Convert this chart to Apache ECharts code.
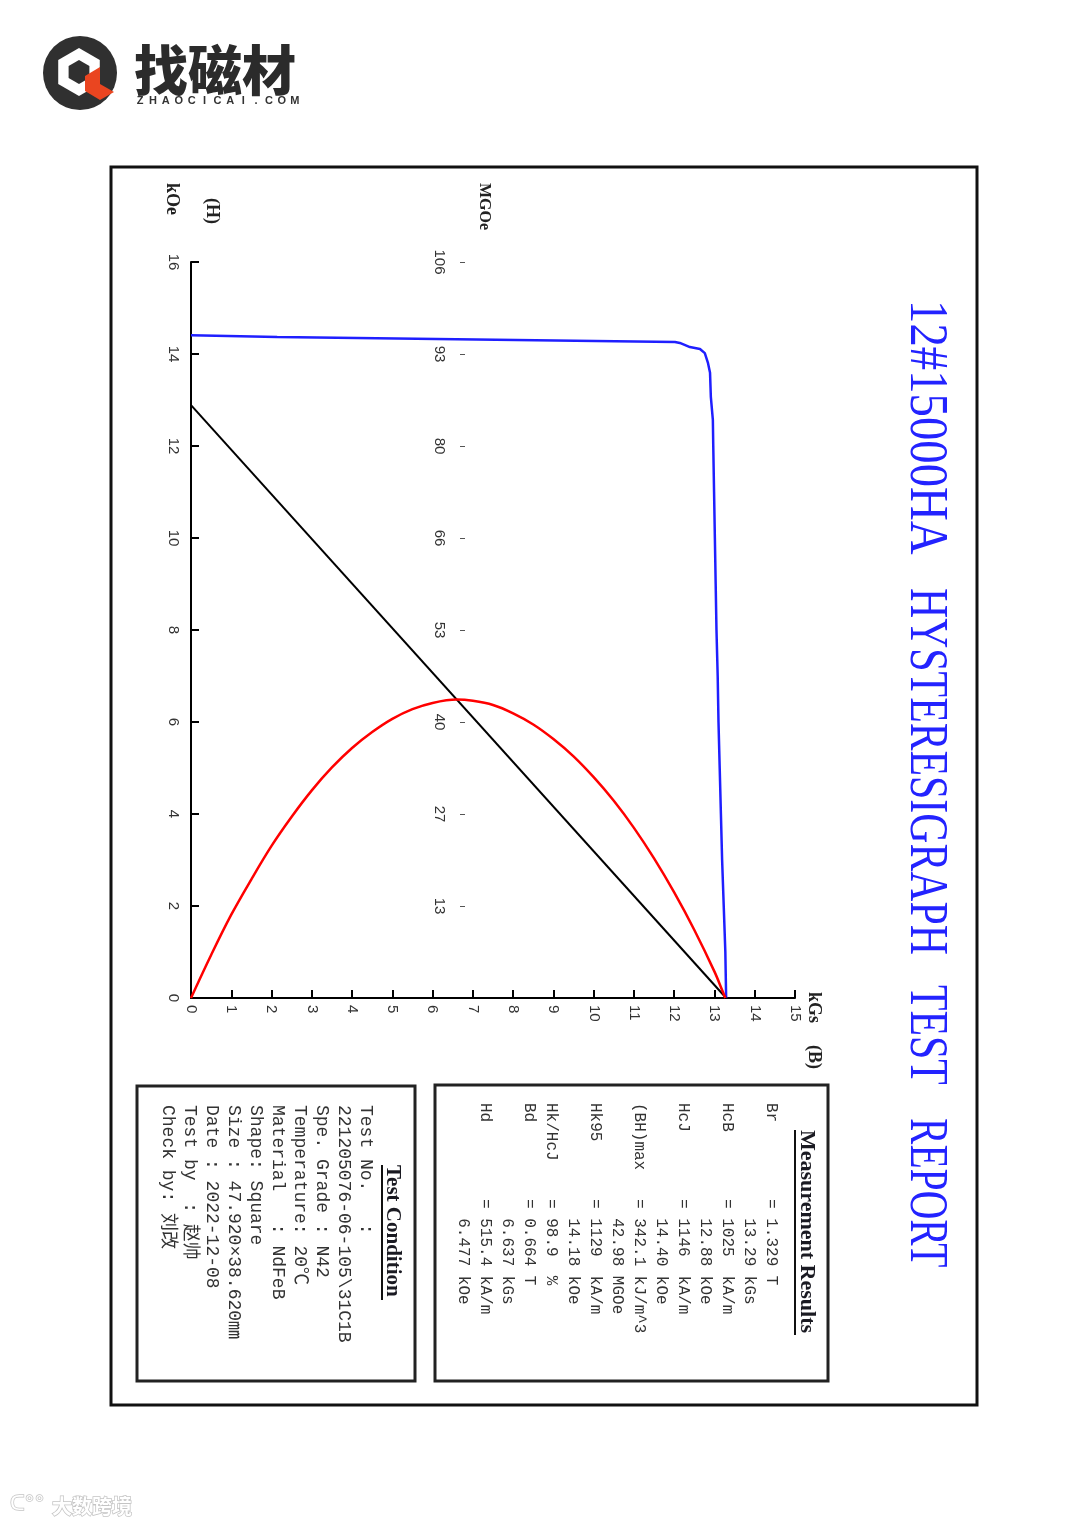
<!DOCTYPE html>
<html>
<head>
<meta charset="utf-8">
<script src="https://cdn.jsdelivr.net/npm/echarts@6/dist/echarts.min.js"></script>
<style>
html,body{margin:0;padding:0;background:#fff;}
#chart{width:1080px;height:1526px;}
</style>
</head>
<body>
<div id="chart"></div>
<script>
// ---------------- data ----------------
const titleParts = ['12#15000HA', 'HYSTERESIGRAPH', 'TEST', 'REPORT'];
const bTickLabels = ['0','1','2','3','4','5','6','7','8','9','10','11','12','13','14','15'];
const hTickLabels = ['0','2','4','6','8','10','12','14','16'];
const mgoeTickLabels = ['0','13','27','40','53','66','80','93','106'];

// Intrinsic (J-H) demagnetisation curve, blue: J in kGs, H in kOe
const jCurveB = [13.29, 13.27, 13.23, 13.19, 13.16, 13.13, 13.10, 13.08, 13.05, 13.03, 13.01, 12.99, 12.97, 12.96, 12.91, 12.89, 12.84, 12.76, 12.64, 12.39, 12.14, 12.02, 2.14, 0];
const jCurveH = [0, 1.0, 2.0, 3.0, 4.0, 5.0, 6.0, 7.0, 8.0, 9.0, 10.0, 11.0, 12.0, 12.57, 13.07, 13.59, 13.80, 14.02, 14.11, 14.15, 14.24, 14.26, 14.37, 14.41];

// Normal (B-H) curve, black
const normalB = [0, 13.29];
const normalH = [12.89, 0];

// Energy product curve, red: B in kGs, BH in MGOe
const bhB = [0, 0.5, 1, 1.5, 2, 2.5, 3, 3.5, 4, 4.5, 5, 5.5, 6, 6.6, 7, 7.5, 8, 8.5, 9, 9.5, 10, 10.5, 11, 11.5, 12, 12.5, 13, 13.2, 13.27];
const bhMGOe = [0, 6.2, 12.0, 17.1, 21.9, 26.1, 29.9, 33.2, 36.0, 38.3, 40.2, 41.6, 42.5, 42.98, 42.8, 42.2, 41.0, 39.4, 37.3, 34.8, 31.8, 28.4, 24.5, 20.1, 15.2, 9.8, 3.8, 1.0, 0];

const measurementLines = [
  'Br        = 1.329 T',
  '            13.29 kGs',
  'HcB       = 1025  kA/m',
  '            12.88 kOe',
  'HcJ       = 1146  kA/m',
  '            14.40 kOe',
  '(BH)max   = 342.1 kJ/m^3',
  '            42.98 MGOe',
  'Hk95      = 1129  kA/m',
  '            14.18 kOe',
  'Hk/HcJ    = 98.9  %',
  'Bd        = 0.664 T',
  '            6.637 kGs',
  'Hd        = 515.4 kA/m',
  '            6.477 kOe'
];
const conditionLines = [
  'Test No.   :',
  '221205076-06-105\\31C1B',
  'Spe. Grade : N42',
  'Temperature: 20℃',
  'Material   : NdFeB',
  'Shape: Square',
  'Size : 47.920×38.620㎜',
  'Date : 2022-12-08',
  'Test by  : 赵帅',
  'Check by: 刘改'
];

// ---------------- build ----------------
const zip = (a, b) => a.map((v, i) => [v, b[i]]);
const ROT = -Math.PI / 2;
const SERIF = "'Liberation Serif','Times New Roman',serif";
const MONO = "'Liberation Mono','DejaVu Sans Mono','Noto Sans CJK SC',monospace";

function rtext(x, y, text, style, extra) {
  return Object.assign({
    type: 'text', x: x, y: y, rotation: ROT, silent: true,
    style: Object.assign({ text: text, align: 'left', verticalAlign: 'middle' }, style)
  }, extra || {});
}

const graphics = [];
// outer frame and boxes
graphics.push({ type: 'rect', shape: { x: 111, y: 167, width: 866, height: 1238 }, style: { fill: null, stroke: '#111', lineWidth: 3 } });
graphics.push({ type: 'rect', shape: { x: 435, y: 1085, width: 393, height: 296 }, style: { fill: null, stroke: '#222', lineWidth: 3 } });
graphics.push({ type: 'rect', shape: { x: 137, y: 1086, width: 278, height: 295 }, style: { fill: null, stroke: '#222', lineWidth: 3 } });

// title
const titleStarts = [300, 588, 985, 1118];
const titleScale = [0.85, 0.76, 0.76, 0.72];
titleParts.forEach((t, i) => {
  graphics.push(rtext(925, titleStarts[i], t, { fontSize: 55, fontFamily: SERIF, fill: '#2323ff' }, { scaleX: titleScale[i] }));
});

// axis names
graphics.push(rtext(172, 183, 'kOe', { fontSize: 18, fontFamily: SERIF, fontWeight: 'bold', fill: '#222' }));
graphics.push(rtext(212, 198, '(H)', { fontSize: 18, fontFamily: SERIF, fontWeight: 'bold', fill: '#222' }));
graphics.push(rtext(484, 183, 'MGOe', { fontSize: 16, fontFamily: SERIF, fontWeight: 'bold', fill: '#222' }));
graphics.push(rtext(814, 992, 'kGs', { fontSize: 18, fontFamily: SERIF, fontWeight: 'bold', fill: '#222' }));
graphics.push(rtext(814, 1045, '(B)', { fontSize: 18, fontFamily: SERIF, fontWeight: 'bold', fill: '#222' }));

// box titles + underlines
graphics.push(rtext(807, 1130, 'Measurement Results', { fontSize: 22, fontFamily: SERIF, fontWeight: 'bold', fill: '#1a1a22' }));
graphics.push({ type: 'line', shape: { x1: 795, y1: 1130, x2: 795, y2: 1335 }, style: { stroke: '#111', lineWidth: 2 } });
graphics.push(rtext(392, 1165, 'Test Condition', { fontSize: 21, fontFamily: SERIF, fontWeight: 'bold', fill: '#1a1a22' }));
graphics.push({ type: 'line', shape: { x1: 382, y1: 1165, x2: 382, y2: 1300 }, style: { stroke: '#111', lineWidth: 2 } });

// text blocks
graphics.push(rtext(782, 1103, measurementLines.join('\n'), { fontSize: 16, fontFamily: MONO, fill: '#333', verticalAlign: 'top', lineHeight: 22 }));
graphics.push(rtext(377, 1105, conditionLines.join('\n'), { fontSize: 18, fontFamily: MONO, fill: '#333', verticalAlign: 'top', lineHeight: 22 }));

// logo
graphics.push({ type: 'circle', shape: { cx: 80, cy: 73, r: 37 }, style: { fill: '#303030' } });
(function () {
  const hex = (cx, cy, r) => { const p = []; for (let k = 0; k < 6; k++) { const a = Math.PI / 2 + k * Math.PI / 3; p.push([cx + r * Math.cos(a), cy - r * Math.sin(a)]); } return p; };
  graphics.push({ type: 'polygon', shape: { points: hex(79, 72, 24) }, style: { fill: '#ffffff' } });
  graphics.push({ type: 'polygon', shape: { points: hex(79, 72, 12) }, style: { fill: '#303030' } });
  graphics.push({ type: 'polygon', shape: { points: [[85, 76], [100, 67], [100, 84], [114, 92], [100, 100], [85, 91]] }, style: { fill: '#ea4520' } });
})();
graphics.push({ type: 'text', x: 134, y: 70, silent: true, style: { text: '找磁材', fontSize: 54, fontWeight: 900, fontFamily: "'Noto Sans CJK SC',sans-serif", fill: '#2b2b2b', verticalAlign: 'middle' } });
'ZHAOCICAI.COM'.split('').forEach((ch, i) => {
  graphics.push({ type: 'text', x: 140 + i * 12.9, y: 101, silent: true, style: { text: ch, fontSize: 11, fontWeight: 'bold', fontFamily: "'Liberation Sans',sans-serif", fill: '#333', align: 'center', verticalAlign: 'middle' } });
});
// watermark
graphics.push({ type: 'text', x: 10, y: 1505, silent: true, style: { text: 'ᑕ°°', fontSize: 20, fontFamily: "'DejaVu Sans',sans-serif", fill: '#fff', stroke: '#c4c4c4', lineWidth: 1.5, verticalAlign: 'middle' } });
graphics.push({ type: 'text', x: 52, y: 1506, silent: true, style: { text: '大数跨境', fontSize: 20, fontWeight: 'bold', fontFamily: "'Noto Sans CJK SC',sans-serif", fill: '#fff', stroke: '#c4c4c4', lineWidth: 1.5, verticalAlign: 'middle' } });

const labelStyle = { color: '#333', fontSize: 15, fontFamily: "'Liberation Sans',sans-serif" };

const option = {
  animation: false,
  backgroundColor: '#ffffff',
  grid: { left: 191, right: 285, top: 262, bottom: 528, containLabel: false, outerBoundsMode: 'none' },
  xAxis: [{
    type: 'value', min: 0, max: 15, interval: 1,
    axisLine: { show: true, lineStyle: { color: '#000', width: 2 } },
    axisTick: { show: true, inside: true, length: 8, lineStyle: { color: '#000', width: 2 } },
    axisLabel: Object.assign({ rotate: -90, margin: 7, formatter: (v) => bTickLabels[Math.round(v)] }, labelStyle),
    splitLine: { show: false }
  }],
  yAxis: [{
    type: 'value', min: 0, max: 16, interval: 2, position: 'left',
    axisLine: { show: true, lineStyle: { color: '#000', width: 2 } },
    axisTick: { show: true, inside: true, length: 8, lineStyle: { color: '#000', width: 2 } },
    axisLabel: Object.assign({ rotate: -90, margin: 10, formatter: (v) => hTickLabels[Math.round(v / 2)] }, labelStyle),
    splitLine: { show: false }
  }, {
    type: 'value', min: 0, max: 106, interval: 13.25, position: 'left', offset: -269,
    axisLine: { show: false },
    axisTick: { show: true, inside: true, length: 5, lineStyle: { color: '#555', width: 1 } },
    axisLabel: Object.assign({ rotate: -90, margin: 13, showMinLabel: false, formatter: (v) => mgoeTickLabels[Math.round(v / 13.25)] }, labelStyle),
    splitLine: { show: false }
  }],
  graphic: { elements: graphics },
  series: [{
    name: 'J', type: 'line', xAxisIndex: 0, yAxisIndex: 0, showSymbol: false, symbol: 'none',
    lineStyle: { color: '#1f1fff', width: 2.5 }, data: zip(jCurveB, jCurveH)
  }, {
    name: 'B', type: 'line', xAxisIndex: 0, yAxisIndex: 0, showSymbol: false, symbol: 'none',
    lineStyle: { color: '#000', width: 2 }, data: zip(normalB, normalH)
  }, {
    name: 'BH', type: 'line', xAxisIndex: 0, yAxisIndex: 1, showSymbol: false, symbol: 'none', smooth: 0.35,
    lineStyle: { color: '#ff0000', width: 2.5 }, data: zip(bhB, bhMGOe)
  }]
};

const chart = echarts.init(document.getElementById('chart'), null, { renderer: 'canvas' });
chart.setOption(option);
</script>
</body>
</html>
